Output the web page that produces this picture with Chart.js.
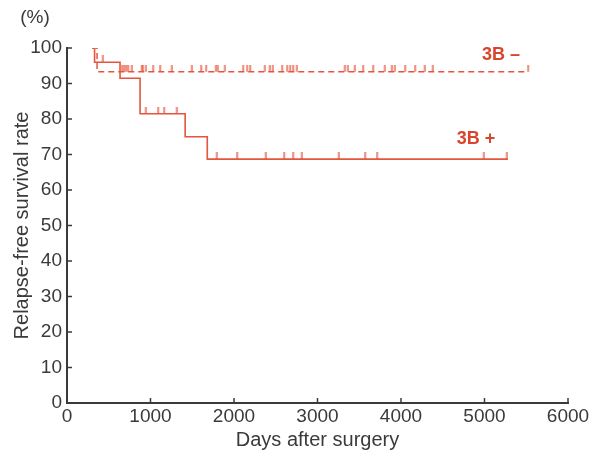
<!DOCTYPE html>
<html>
<head>
<meta charset="utf-8">
<script src="https://cdn.jsdelivr.net/npm/chart.js@4.4.0/dist/chart.umd.min.js"></script>
<style>
html,body{margin:0;padding:0;background:#fff;}
#wrap{width:599px;height:456px;}
</style>
</head>
<body>
<div id="wrap"><canvas id="c" width="599" height="456"></canvas></div>
<script>
// Step curves (day, rate %)
const negDays  = [300, 360, 5520];
const negRates = [100, 93.3, 93.3];
const posDays  = [300, 330, 635, 875, 1415, 1680, 5280];
const posRates = [100, 96, 91.5, 81.5, 75, 68.7, 68.7];

// Censored observations
const negCensorDays = [659, 683, 707, 731, 778, 898, 910, 946, 1030, 1114, 1257, 1497, 1605, 1665, 1784, 1808, 1892, 2108, 2156, 2192, 2371, 2431, 2467, 2575, 2635, 2671, 2707, 2754, 3329, 3365, 3449, 3545, 3665, 3808, 3892, 3928, 4048, 4168, 4287, 4383, 5521];
const negCensorRates = negCensorDays.map(() => 93.3);
const posCensorDays  = [431, 946, 1090, 1162, 1317, 1796, 2036, 2383, 2599, 2707, 2814, 3257, 3569, 3713, 4994, 5269];
const posCensorRates = [96, 81.5, 81.5, 81.5, 81.5, 68.7, 68.7, 68.7, 68.7, 68.7, 68.7, 68.7, 68.7, 68.7, 68.7, 68.7];

const xTicks = [0, 1000, 2000, 3000, 4000, 5000, 6000];
const yTicks = [0, 10, 20, 30, 40, 50, 60, 70, 80, 90, 100];

const groupLabels = ['3B –', '3B +'];
const labelDays  = [5197, 4898];
const labelRates = [98.0, 74.4];

const RED = '#e5553d';
const LABEL_RED = '#d8452c';
const AXIS = '#3a3a3a';
const FONT = '"Liberation Sans", Arial, sans-serif';

function tickMark() {
  const cv = document.createElement('canvas');
  cv.width = 3; cv.height = 14;
  const g = cv.getContext('2d');
  g.strokeStyle = RED; g.lineWidth = 1.4;
  g.beginPath(); g.moveTo(1.5, 0); g.lineTo(1.5, 7); g.stroke();
  return cv;
}
const tm = tickMark();

const pts = (xs, ys) => xs.map((x, i) => ({x, y: ys[i]}));

const extras = {
  id: 'extras',
  afterDraw(chart) {
    const ctx = chart.ctx, xs = chart.scales.x, ys = chart.scales.y, a = chart.chartArea;
    ctx.save();
    ctx.strokeStyle = AXIS; ctx.lineWidth = 1.5;
    yTicks.forEach(v => {
      if (v === 0) return;
      const y = ys.getPixelForValue(v);
      ctx.beginPath(); ctx.moveTo(a.left, y); ctx.lineTo(a.left + 5, y); ctx.stroke();
    });
    xTicks.forEach(v => {
      if (v === 0) return;
      const x = xs.getPixelForValue(v);
      ctx.beginPath(); ctx.moveTo(x, a.bottom); ctx.lineTo(x, a.bottom - 5); ctx.stroke();
    });
    ctx.fillStyle = LABEL_RED;
    ctx.font = 'bold 18px ' + FONT;
    ctx.textAlign = 'center'; ctx.textBaseline = 'middle';
    groupLabels.forEach((t, i) => {
      ctx.fillText(t, xs.getPixelForValue(labelDays[i]), ys.getPixelForValue(labelRates[i]));
    });
    ctx.fillStyle = AXIS;
    ctx.font = '19px ' + FONT;
    ctx.fillText('(%)', 35, 18);
    ctx.restore();
  }
};

new Chart(document.getElementById('c'), {
  type: 'line',
  data: {
    datasets: [
      { label: '3B -', data: pts(negDays, negRates), stepped: true, borderColor: RED, borderWidth: 1.5, borderDash: [6, 4], pointRadius: 0, fill: false },
      { label: '3B +', data: pts(posDays, posRates), stepped: true, borderColor: RED, borderWidth: 1.6, pointRadius: 0, fill: false },
      { type: 'scatter', data: pts(negCensorDays, negCensorRates), pointStyle: tm, pointRadius: 5, showLine: false },
      { type: 'scatter', data: pts(posCensorDays, posCensorRates), pointStyle: tm, pointRadius: 5, showLine: false }
    ]
  },
  plugins: [extras],
  options: {
    responsive: false,
    animation: false,
    events: [],
    layout: { padding: { left: 0, right: 31, top: 48, bottom: 0 } },
    plugins: { legend: { display: false }, tooltip: { enabled: false } },
    scales: {
      x: {
        type: 'linear', min: 0, max: 6000,
        afterBuildTicks: s => { s.ticks = xTicks.map(v => ({value: v})); },
        afterFit: s => { s.height = 53; },
        grid: { display: false, drawTicks: false },
        border: { display: true, color: AXIS, width: 2 },
        ticks: { color: AXIS, font: { family: FONT, size: 19 }, padding: 2, maxRotation: 0, callback: v => String(v) },
        title: { display: true, text: 'Days after surgery', color: AXIS, font: { family: FONT, size: 20 }, padding: { top: 0, bottom: 4 } }
      },
      y: {
        type: 'linear', min: 0, max: 100,
        afterBuildTicks: s => { s.ticks = yTicks.map(v => ({value: v})); },
        afterFit: s => { s.width = 67; },
        grid: { display: false, drawTicks: false },
        border: { display: true, color: AXIS, width: 2 },
        ticks: { color: AXIS, font: { family: FONT, size: 19 }, padding: 5, callback: v => String(v) },
        title: { display: true, text: 'Relapse-free survival rate', color: AXIS, font: { family: FONT, size: 20 }, padding: { top: 10, bottom: 0 } }
      }
    }
  }
});
</script>
</body>
</html>
